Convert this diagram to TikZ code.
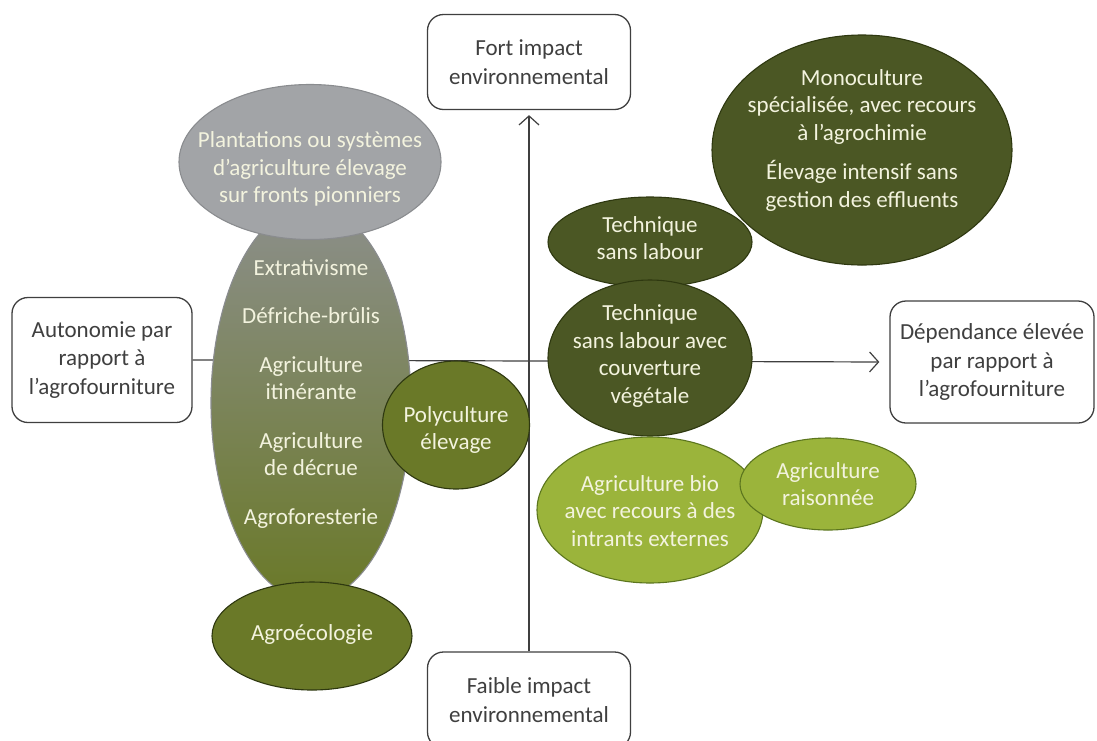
\documentclass[tikz,border=0pt]{standalone}
\usepackage{fontspec}
\setmainfont{Carlito}
\usepackage{tikz}
\usetikzlibrary{positioning, arrows.meta, shapes.geometric}

\definecolor{boxgrey}{HTML}{3F3F3F}
\definecolor{oliveDark}{HTML}{4B5724}
\definecolor{oliveMid}{HTML}{6A7928}
\definecolor{oliveLime}{HTML}{9BB43B}
\definecolor{limeRim}{HTML}{5C761E}
\definecolor{stoneGrey}{HTML}{A2A4A7}
\definecolor{stoneRim}{HTML}{8A8C8F}
\definecolor{shadeGrey}{HTML}{8C8F8B}
\definecolor{creamText}{HTML}{F3F3DE}
\definecolor{rimDark}{HTML}{2E3810}

\begin{document}
\begin{tikzpicture}[
  x=1pt, y=-1pt,
  font=\fontsize{23}{27.5}\selectfont,
  axisbox/.style={draw=boxgrey, rounded corners=16pt, line width=1.3pt, fill=white,
    text=boxgrey, align=center, font=\fontsize{23}{28.5}\selectfont},
  blob/.style={ellipse, draw=rimDark, line width=1.1pt, inner sep=0pt},
  blobtext/.style={text=creamText, align=center, inner sep=0pt},
  axis/.style={line width=1.2pt, draw=boxgrey, -{Straight Barb[length=9pt,width=20pt]}},
]
  \useasboundingbox (0,0) rectangle (1097,740);

  % the four ends of the axes
  \node[axisbox, minimum width=203, minimum height=95]  (fort)   at (529,62)  {Fort impact\\environnemental};
  \node[axisbox, minimum width=203, minimum height=96]  (faible) at (529,700) {Faible impact\\environnemental};
  \node[axisbox, minimum width=180, minimum height=125] (auto)   at (102,360) {Autonomie par\\rapport à\\l’agrofourniture};
  \node[axisbox, minimum width=204, minimum height=122] (dep)    at (992,362) {Dépendance élevée\\par rapport à\\l’agrofourniture};

  \draw[axis, shorten >=5pt] (faible.north) -- (fort.south);
  \draw[axis, shorten >=10pt] (auto.east) -- (dep.west);

  % left column
  \node[blob, draw=stoneRim, top color=shadeGrey, bottom color=oliveMid,
    minimum width=200, minimum height=395] (big) at (311,403) {};
  \node[blobtext] (bigt) at (311,394)
    {Extrativisme\\[21pt]Défriche-brûlis\\[21pt]Agriculture\\itinérante\\[21pt]Agriculture\\de décrue\\[21pt]Agroforesterie};
  \node[blob, draw=stoneRim, fill=stoneGrey, minimum width=262, minimum height=155] (plant) at (310,162) {};
  \node[blobtext] (plantt) at (310,169) {Plantations ou systèmes\\d’agriculture élevage\\sur fronts pionniers};
  \node[blob, fill=oliveMid, minimum width=200, minimum height=108] (agro) at (312,636) {};
  \node[blobtext] (agrot) at (312,634) {Agroécologie};
  \node[blob, fill=oliveMid, minimum width=147, minimum height=128] (poly) at (456,425) {};
  \node[blobtext] (polyt) at (456,430) {Polyculture\\élevage};

  % right side
  \node[blob, fill=oliveDark, minimum width=300, minimum height=230] (mono) at (862,150) {};
  \node[blobtext] (monot) at (862,140)
    {Monoculture\\spécialisée, avec recours\\à l’agrochimie\\[12pt]Élevage intensif sans\\gestion des effluents};
  \node[blob, fill=oliveDark, minimum width=204, minimum height=90] (tsl) at (650,242) {};
  \node[blobtext] (tslt) at (650,238) {Technique\\sans labour};
  \node[blob, fill=oliveDark, minimum width=204, minimum height=156] (tslc) at (650,358) {};
  \node[blobtext] (tslct) at (650,356) {Technique\\sans labour avec\\couverture\\végétale};
  \node[blob, draw=limeRim, fill=oliveLime, minimum width=226, minimum height=146] (bio) at (650,510) {};
  \node[blobtext] (biot) at (650,511) {Agriculture bio\\avec recours à des\\intrants externes};
  \node[blob, draw=limeRim, fill=oliveLime, minimum width=176, minimum height=92] (rais) at (828,484) {};
  \node[blobtext] (raist) at (828,484) {Agriculture\\raisonnée};
\end{tikzpicture}
\end{document}
